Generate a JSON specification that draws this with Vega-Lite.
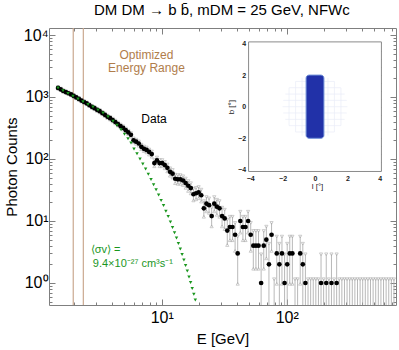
{
"$schema": "https://vega.github.io/schema/vega-lite/v6.json",
"width": 347, "height": 277,
"autosize": "none",
"padding": {"left": 49, "top": 28, "right": 3, "bottom": 45},
"background": "white",
"config": {"font": "Liberation Sans", "view": {"stroke": "#7f7f7f", "strokeWidth": 1},
  "axis": {"grid": false, "labelOverlap": false, "labelBound": false, "labelFlush": false, "titleFontWeight": "normal", "labelColor": "#000", "titleColor": "#000", "tickColor": "#7f7f7f", "domain": false, "labelFont": "Liberation Sans", "titleFont": "Liberation Sans"}},
"title": {"text": "DM DM → b b̄, mDM = 25 GeV, NFWc", "fontSize": 15, "fontWeight": "normal", "font": "Liberation Sans", "color": "#000", "anchor": "start", "frame": "group", "dx": 45, "offset": 9},
"datasets": {
"obs": [
{"E":1.481,"n":1400,"lo":1362,"hi":1438},{"E":1.554,"n":1330,"lo":1293,"hi":1367},{"E":1.630,"n":1250,"lo":1214,"hi":1286},{"E":1.710,"n":1200,"lo":1165,"hi":1235},{"E":1.794,"n":1150,"lo":1116,"hi":1185},{"E":1.882,"n":1100,"lo":1066,"hi":1134},{"E":1.974,"n":1040,"lo":1007,"hi":1073},{"E":2.071,"n":985,"lo":953,"hi":1017},{"E":2.173,"n":930,"lo":899,"hi":961},{"E":2.280,"n":875,"lo":845,"hi":905},
{"E":2.392,"n":830,"lo":801,"hi":860},{"E":2.509,"n":790,"lo":762,"hi":819},{"E":2.633,"n":740,"lo":713,"hi":768},{"E":2.762,"n":695,"lo":668,"hi":722},{"E":2.898,"n":660,"lo":634,"hi":687},{"E":3.040,"n":620,"lo":595,"hi":646},{"E":3.189,"n":590,"lo":565,"hi":615},{"E":3.346,"n":550,"lo":526,"hi":574},{"E":3.510,"n":515,"lo":492,"hi":539},{"E":3.683,"n":480,"lo":458,"hi":503},
{"E":3.864,"n":455,"lo":433,"hi":477},{"E":4.053,"n":425,"lo":404,"hi":446},{"E":4.253,"n":395,"lo":375,"hi":416},{"E":4.462,"n":365,"lo":346,"hi":385},{"E":4.681,"n":340,"lo":321,"hi":359},{"E":4.911,"n":318,"lo":300,"hi":337},{"E":5.152,"n":292,"lo":275,"hi":310},{"E":5.405,"n":268,"lo":251,"hi":285},{"E":5.671,"n":245,"lo":229,"hi":262},{"E":5.950,"n":200,"lo":186,"hi":215},
{"E":6.242,"n":190,"lo":176,"hi":205},{"E":6.549,"n":178,"lo":164,"hi":192},{"E":6.871,"n":157,"lo":144,"hi":170},{"E":7.208,"n":146,"lo":134,"hi":159},{"E":7.563,"n":140,"lo":128,"hi":153},{"E":7.934,"n":130,"lo":118,"hi":142},{"E":8.324,"n":120,"lo":109,"hi":132},{"E":8.733,"n":86,"lo":76.4,"hi":96.2},{"E":9.162,"n":95,"lo":85.0,"hi":105.6},{"E":9.614,"n":86,"lo":76.4,"hi":96.2},
{"E":10.09,"n":86,"lo":76.4,"hi":96.2},{"E":10.58,"n":80,"lo":70.8,"hi":89.8},{"E":11.10,"n":72,"lo":63.2,"hi":81.4},{"E":11.65,"n":62,"lo":53.8,"hi":70.8},{"E":12.22,"n":58,"lo":50.1,"hi":66.5},{"E":12.82,"n":48,"lo":40.8,"hi":55.8},{"E":13.45,"n":47,"lo":39.8,"hi":54.8},{"E":14.11,"n":47,"lo":39.8,"hi":54.8},{"E":14.81,"n":45,"lo":38.0,"hi":52.6},{"E":15.54,"n":41,"lo":34.3,"hi":48.3},
{"E":16.30,"n":37,"lo":30.6,"hi":44.0},{"E":17.10,"n":34,"lo":27.9,"hi":40.7},{"E":17.94,"n":27,"lo":21.5,"hi":33.1},{"E":18.82,"n":28,"lo":22.4,"hi":34.2},{"E":19.74,"n":29,"lo":23.3,"hi":35.3},{"E":20.71,"n":26,"lo":20.6,"hi":32.0},{"E":21.73,"n":16,"lo":11.7,"hi":20.9},{"E":22.80,"n":19,"lo":14.3,"hi":24.3},{"E":23.92,"n":18,"lo":13.5,"hi":23.1},{"E":25.09,"n":12,"lo":8.2,"hi":16.4},
{"E":26.33,"n":19,"lo":14.3,"hi":24.3},{"E":27.62,"n":17,"lo":12.6,"hi":22.0},{"E":28.98,"n":16,"lo":11.7,"hi":20.9},{"E":30.40,"n":12,"lo":8.2,"hi":16.4},{"E":31.89,"n":11,"lo":7.4,"hi":15.2},{"E":33.46,"n":7,"lo":4.1,"hi":10.5},{"E":35.10,"n":8,"lo":4.9,"hi":11.7},{"E":36.83,"n":8,"lo":4.9,"hi":11.7},{"E":38.64,"n":6,"lo":3.3,"hi":9.3},{"E":40.53,"n":3,"lo":0.97,"hi":5.6},
{"E":42.53,"n":10,"lo":6.5,"hi":14.1},{"E":44.62,"n":8,"lo":4.9,"hi":11.7},{"E":46.81,"n":8,"lo":4.9,"hi":11.7},{"E":49.11,"n":10,"lo":6.5,"hi":14.1},{"E":51.52,"n":6,"lo":3.3,"hi":9.3},{"E":54.05,"n":4,"lo":1.7,"hi":6.9},{"E":56.71,"n":4,"lo":1.7,"hi":6.9},{"E":59.50,"n":4,"lo":1.7,"hi":6.9},{"E":62.42,"n":1,"lo":0.01,"hi":2.9},{"E":65.49,"n":4,"lo":1.7,"hi":6.9},
{"E":68.71,"n":5,"lo":2.5,"hi":8.1},{"E":72.08,"n":2,"lo":0.29,"hi":4.3},{"E":75.63,"n":6,"lo":3.3,"hi":9.3},{"E":79.34,"n":0,"lo":0.01,"hi":1.15},{"E":83.24,"n":3,"lo":0.97,"hi":5.6},{"E":87.33,"n":2,"lo":0.29,"hi":4.3},{"E":91.62,"n":3,"lo":0.97,"hi":5.6},{"E":96.14,"n":1,"lo":0.01,"hi":2.9},{"E":100.9,"n":2,"lo":0.29,"hi":4.3},{"E":105.8,"n":3,"lo":0.97,"hi":5.6},
{"E":111.0,"n":3,"lo":0.97,"hi":5.6},{"E":116.5,"n":0,"lo":0.01,"hi":1.15},{"E":122.2,"n":0,"lo":0.01,"hi":1.15},{"E":128.2,"n":3,"lo":0.97,"hi":5.6},{"E":134.5,"n":2,"lo":0.29,"hi":4.3},{"E":141.1,"n":1,"lo":0.01,"hi":2.9},{"E":148.1,"n":0,"lo":0.01,"hi":1.15},{"E":155.4,"n":0,"lo":0.01,"hi":1.15},{"E":163.0,"n":0,"lo":0.01,"hi":1.15},{"E":171.0,"n":0,"lo":0.01,"hi":1.15},
{"E":179.4,"n":0,"lo":0.01,"hi":1.15},{"E":188.2,"n":1,"lo":0.01,"hi":2.9},{"E":197.4,"n":0,"lo":0.01,"hi":1.15},{"E":207.1,"n":1,"lo":0.01,"hi":2.9},{"E":217.3,"n":0,"lo":0.01,"hi":1.15},{"E":228.0,"n":1,"lo":0.01,"hi":2.9},{"E":239.2,"n":0,"lo":0.01,"hi":1.15},{"E":250.9,"n":1,"lo":0.01,"hi":2.9},{"E":263.3,"n":0,"lo":0.01,"hi":1.15},{"E":276.2,"n":0,"lo":0.01,"hi":1.15},
{"E":289.8,"n":0,"lo":0.01,"hi":1.15},{"E":304.0,"n":0,"lo":0.01,"hi":1.15},{"E":318.9,"n":0,"lo":0.01,"hi":1.15},{"E":334.6,"n":0,"lo":0.01,"hi":1.15},{"E":351.0,"n":0,"lo":0.01,"hi":1.15},{"E":368.3,"n":0,"lo":0.01,"hi":1.15},{"E":386.4,"n":0,"lo":0.01,"hi":1.15},{"E":405.3,"n":0,"lo":0.01,"hi":1.15},{"E":425.3,"n":0,"lo":0.01,"hi":1.15},{"E":446.2,"n":0,"lo":0.01,"hi":1.15},
{"E":468.1,"n":0,"lo":0.01,"hi":1.15},{"E":491.1,"n":0,"lo":0.01,"hi":1.15},{"E":515.2,"n":0,"lo":0.01,"hi":1.15},{"E":540.5,"n":0,"lo":0.01,"hi":1.15},{"E":567.1,"n":0,"lo":0.01,"hi":1.15},{"E":595.0,"n":0,"lo":0.01,"hi":1.15},{"E":624.2,"n":0,"lo":0.01,"hi":1.15},{"E":654.9,"n":0,"lo":0.01,"hi":1.15},{"E":687.1,"n":0,"lo":0.01,"hi":1.15},{"E":720.8,"n":0,"lo":0.01,"hi":1.15}
],
"model": [
{"E":1.481,"m":1397},{"E":1.623,"m":1264},{"E":1.780,"m":1139},{"E":1.951,"m":1030},{"E":2.140,"m":932},{"E":2.346,"m":840},{"E":2.573,"m":760},{"E":2.821,"m":687},{"E":3.093,"m":617},{"E":3.392,"m":552},{"E":3.719,"m":478},{"E":4.078,"m":407},{"E":4.389,"m":351},{"E":4.725,"m":296},{"E":5.039,"m":250},{"E":5.375,"m":212},{"E":5.680,"m":181},{"E":6.003,"m":145.6},{"E":6.344,"m":121.3},{"E":6.705,"m":100},{"E":7.060,"m":83.1},{"E":7.433,"m":69.0},{"E":7.813,"m":56.6},{"E":8.211,"m":46.7},{"E":8.613,"m":38.5},{"E":9.020,"m":31.9},{"E":9.445,"m":26.3},{"E":9.890,"m":21.5},{"E":10.34,"m":17.7},{"E":10.80,"m":14.4},{"E":11.27,"m":11.8},{"E":11.74,"m":9.64},{"E":12.20,"m":7.86},{"E":12.66,"m":6.48},{"E":13.13,"m":5.32},{"E":13.60,"m":4.34},{"E":14.09,"m":3.53},{"E":14.56,"m":2.88},{"E":15.05,"m":2.35},{"E":15.53,"m":1.92},{"E":16.02,"m":1.56},{"E":16.53,"m":1.254},{"E":17.03,"m":1.015},{"E":17.54,"m":0.818},{"E":18.07,"m":0.657},{"E":18.57,"m":0.532}
]
},
"layer": [
{
"layer": [
{"data": {"values": [{"E":1.96},{"E":2.36}]},
 "mark": {"type": "rule", "color": "#caa990", "strokeWidth": 1.2},
 "encoding": {"x": {"field": "E", "type": "quantitative", "scale": {"type": "log", "domain": [1.254, 748.6], "nice": false}, "axis": null}}},
{"data": {"name": "obs"},
 "mark": {"type": "rule", "color": "#a6a6a6", "strokeWidth": 0.8, "clip": true},
 "encoding": {"x": {"field": "E", "type": "quantitative", "scale": {"type": "log", "domain": [1.254, 748.6], "nice": false}, "axis": null},
  "y": {"field": "lo", "type": "quantitative", "scale": {"type": "log", "domain": [0.4416, 12970], "nice": false}, "axis": null},
  "y2": {"field": "hi"}}},
{"data": {"name": "obs"},
 "mark": {"type": "point", "shape": "triangle-down", "filled": false, "color": "#a6a6a6", "size": 10, "strokeWidth": 0.8, "clip": true},
 "encoding": {"x": {"field": "E", "type": "quantitative", "scale": {"type": "log", "domain": [1.254, 748.6], "nice": false}, "axis": null},
  "y": {"field": "hi", "type": "quantitative", "scale": {"type": "log", "domain": [0.4416, 12970], "nice": false}, "axis": null}}},
{"data": {"name": "obs"},
 "mark": {"type": "point", "shape": "triangle-up", "filled": false, "color": "#a6a6a6", "size": 10, "strokeWidth": 0.8, "clip": true},
 "encoding": {"x": {"field": "E", "type": "quantitative", "scale": {"type": "log", "domain": [1.254, 748.6], "nice": false}, "axis": null},
  "y": {"field": "lo", "type": "quantitative", "scale": {"type": "log", "domain": [0.4416, 12970], "nice": false}, "axis": null}}},
{"data": {"name": "obs"},
 "transform": [{"filter": "datum.n > 0"}],
 "mark": {"type": "circle", "color": "#000", "size": 22, "opacity": 1, "clip": true},
 "encoding": {"x": {"field": "E", "type": "quantitative", "scale": {"type": "log", "domain": [1.254, 748.6], "nice": false},
   "axis": {"orient": "bottom", "values": [2,3,4,5,6,7,8,9,10,20,30,40,50,60,70,80,90,100,200,300,400,500,600,700], "tickSize": -3, "labelExpr": "datum.value==10?'10¹':datum.value==100?'10²':''", "labelFontSize": 16, "labelPadding": 7, "title": "E [GeV]", "titleFontSize": 15, "titlePadding": 6}},
  "y": {"field": "n", "type": "quantitative", "scale": {"type": "log", "domain": [0.4416, 12970], "nice": false},
   "axis": {"orient": "left", "values": [0.5,0.6,0.7,0.8,0.9,1,2,3,4,5,6,7,8,9,10,20,30,40,50,60,70,80,90,100,200,300,400,500,600,700,800,900,1000,2000,3000,4000,5000,6000,7000,8000,9000,10000], "tickSize": -3, "labelExpr": "datum.value==1?'10⁰':datum.value==10?'10¹':datum.value==100?'10²':datum.value==1000?'10³':datum.value==10000?'10⁴':''", "labelFontSize": 16, "labelPadding": 4, "title": "Photon Counts", "titleFontSize": 15, "titlePadding": 4}}}},
{"data": {"name": "model"},
 "mark": {"type": "point", "shape": "triangle-down", "filled": true, "color": "#1a961e", "size": 12, "opacity": 1, "clip": true},
 "encoding": {"x": {"field": "E", "type": "quantitative", "scale": {"type": "log", "domain": [1.254, 748.6], "nice": false}, "axis": null},
  "y": {"field": "m", "type": "quantitative", "scale": {"type": "log", "domain": [0.4416, 12970], "nice": false}, "axis": null}}},
{"data": {"values": [{"E":7.55,"n":4755,"t":"Optimized"},{"E":7.55,"n":2940,"t":"Energy Range"}]},
 "mark": {"type": "text", "color": "#b07d4b", "fontSize": 12, "align": "center", "baseline": "middle"},
 "encoding": {"x": {"field": "E", "type": "quantitative", "scale": {"type": "log", "domain": [1.254, 748.6], "nice": false}, "axis": null},
  "y": {"field": "n", "type": "quantitative", "scale": {"type": "log", "domain": [0.4416, 12970], "nice": false}, "axis": null}, "text": {"field": "t"}}},
{"data": {"values": [{"E":8.68,"n":442,"t":"Data"}]},
 "mark": {"type": "text", "color": "#000", "fontSize": 12, "align": "center", "baseline": "middle"},
 "encoding": {"x": {"field": "E", "type": "quantitative", "scale": {"type": "log", "domain": [1.254, 748.6], "nice": false}, "axis": null},
  "y": {"field": "n", "type": "quantitative", "scale": {"type": "log", "domain": [0.4416, 12970], "nice": false}, "axis": null}, "text": {"field": "t"}}},
{"data": {"values": [{"E":2.70,"n":3.40,"t":"⟨σv⟩ ="},{"E":2.81,"n":2.02,"t":"9.4×10⁻²⁷ cm³s⁻¹"}]},
 "mark": {"type": "text", "color": "#1a961e", "fontSize": 11, "align": "left", "baseline": "middle"},
 "encoding": {"x": {"field": "E", "type": "quantitative", "scale": {"type": "log", "domain": [1.254, 748.6], "nice": false}, "axis": null},
  "y": {"field": "n", "type": "quantitative", "scale": {"type": "log", "domain": [0.4416, 12970], "nice": false}, "axis": null}, "text": {"field": "t"}}},
{"data": {"values": [{"E":10,"n":10}]},
 "mark": {"type": "point", "opacity": 0},
 "encoding": {"x": {"field": "E", "type": "quantitative", "scale": {"type": "log", "domain": [1.254, 748.6], "nice": false},
   "axis": {"orient": "bottom", "values": [10,100], "tickSize": -6, "labels": false, "title": null}},
  "y": {"field": "n", "type": "quantitative", "scale": {"type": "log", "domain": [0.4416, 12970], "nice": false},
   "axis": {"orient": "left", "values": [1,10,100,1000,10000], "tickSize": -6, "labels": false, "title": null}}}},
{"data": {"values": [{"E":10,"n":10}]},
 "mark": {"type": "point", "opacity": 0},
 "encoding": {"x": {"field": "E", "type": "quantitative", "scale": {"type": "log", "domain": [1.254, 748.6], "nice": false},
   "axis": {"orient": "top", "values": [2,3,4,5,6,7,8,9,10,20,30,40,50,60,70,80,90,100,200,300,400,500,600,700], "tickSize": -3, "labels": false, "title": null}},
  "y": {"field": "n", "type": "quantitative", "scale": {"type": "log", "domain": [0.4416, 12970], "nice": false},
   "axis": {"orient": "right", "values": [0.5,0.6,0.7,0.8,0.9,1,2,3,4,5,6,7,8,9,10,20,30,40,50,60,70,80,90,100,200,300,400,500,600,700,800,900,1000,2000,3000,4000,5000,6000,7000,8000,9000,10000], "tickSize": -3, "labels": false, "title": null}}}},
{"data": {"values": [{"E":10,"n":10}]},
 "mark": {"type": "point", "opacity": 0},
 "encoding": {"x": {"field": "E", "type": "quantitative", "scale": {"type": "log", "domain": [1.254, 748.6], "nice": false},
   "axis": {"orient": "top", "values": [10,100], "tickSize": -6, "labels": false, "title": null}},
  "y": {"field": "n", "type": "quantitative", "scale": {"type": "log", "domain": [0.4416, 12970], "nice": false},
   "axis": {"orient": "right", "values": [1,10,100,1000,10000], "tickSize": -6, "labels": false, "title": null}}}}
],
"resolve": {"axis": {"x": "independent", "y": "independent"}}
},
{
"layer": [
{"data": {"values": [{"l1":-4.1,"l2":4.1,"b1":-4.1,"b2":4.1}]},
 "mark": {"type": "rect", "fill": "white", "stroke": "#8a8a8a", "strokeWidth": 1},
 "encoding": {"x": {"field": "l1", "type": "quantitative", "scale": {"domain": [-16.42, 5.0], "nice": false, "zero": false},
   "axis": {"orient": "bottom", "offset": -133.5, "values": [-4,-3.5,-3,-2.5,-2,-1.5,-1,-0.5,0,0.5,1,1.5,2,2.5,3,3.5,4], "tickSize": -2, "tickColor": "#8a8a8a", "labelExpr": "datum.value%2==0 ? (datum.value<0 ? '−'+abs(datum.value) : ''+datum.value) : ''", "labelFontSize": 7, "labelFontWeight": "bold", "labelColor": "#222", "labelPadding": 5, "title": "l [°]", "titleFontSize": 8, "titleColor": "#222", "titleX": 268, "titlePadding": 1}},
  "x2": {"field": "l2"},
  "y": {"field": "b1", "type": "quantitative", "scale": {"domain": [-12.55, 4.98], "nice": false, "zero": false},
   "axis": {"orient": "left", "offset": -199.6, "values": [-4,-3.5,-3,-2.5,-2,-1.5,-1,-0.5,0,0.5,1,1.5,2,2.5,3,3.5,4], "tickSize": -2, "tickColor": "#8a8a8a", "labelExpr": "datum.value%2==0 ? (datum.value<0 ? '−'+abs(datum.value) : ''+datum.value) : ''", "labelFontSize": 7, "labelFontWeight": "bold", "labelColor": "#222", "labelPadding": 5, "title": "b [°]", "titleFontSize": 8, "titleColor": "#222", "titleY": 78.7, "titlePadding": 2}},
  "y2": {"field": "b2"}}},
{"data": {"values": [
  {"l1":-1.2,"l2":1.2,"b1":-1.6,"b2":-1.6},{"l1":-1.6,"l2":1.6,"b1":-1.2,"b2":-1.2},{"l1":-1.833,"l2":1.833,"b1":-0.8,"b2":-0.8},{"l1":-1.96,"l2":1.96,"b1":-0.4,"b2":-0.4},{"l1":-2,"l2":2,"b1":0,"b2":0},{"l1":-1.96,"l2":1.96,"b1":0.4,"b2":0.4},{"l1":-1.833,"l2":1.833,"b1":0.8,"b2":0.8},{"l1":-1.6,"l2":1.6,"b1":1.2,"b2":1.2},{"l1":-1.2,"l2":1.2,"b1":1.6,"b2":1.6},
  {"b1":-1.2,"b2":1.2,"l1":-1.6,"l2":-1.6},{"b1":-1.6,"b2":1.6,"l1":-1.2,"l2":-1.2},{"b1":-1.833,"b2":1.833,"l1":-0.8,"l2":-0.8},{"b1":-1.96,"b2":1.96,"l1":-0.4,"l2":-0.4},{"b1":-2,"b2":2,"l1":0,"l2":0},{"b1":-1.96,"b2":1.96,"l1":0.4,"l2":0.4},{"b1":-1.833,"b2":1.833,"l1":0.8,"l2":0.8},{"b1":-1.6,"b2":1.6,"l1":1.2,"l2":1.2},{"b1":-1.2,"b2":1.2,"l1":1.6,"l2":1.6}]},
 "mark": {"type": "rule", "color": "#e9edf8", "strokeWidth": 0.7},
 "encoding": {"x": {"field": "l1", "type": "quantitative", "axis": null}, "x2": {"field": "l2"}, "y": {"field": "b1", "type": "quantitative", "axis": null}, "y2": {"field": "b2"}}},
{"data": {"values": [{"l1":-0.55,"l2":0.55,"b1":-2,"b2":2}]},
 "mark": {"type": "rect", "fill": "#2131a8", "stroke": "#6f8fd8", "strokeWidth": 1, "cornerRadius": 3},
 "encoding": {"x": {"field": "l1", "type": "quantitative", "axis": null}, "x2": {"field": "l2"}, "y": {"field": "b1", "type": "quantitative", "axis": null}, "y2": {"field": "b2"}}},
{"data": {"values": [{"l1":0,"b1":0}]},
 "mark": {"type": "point", "opacity": 0},
 "encoding": {"x": {"field": "l1", "type": "quantitative",
   "axis": {"orient": "top", "offset": -13.9, "values": [-4,-3.5,-3,-2.5,-2,-1.5,-1,-0.5,0,0.5,1,1.5,2,2.5,3,3.5,4], "tickSize": -2, "tickColor": "#8a8a8a", "labels": false, "title": null}},
  "y": {"field": "b1", "type": "quantitative",
   "axis": {"orient": "right", "offset": -14.6, "values": [-4,-3.5,-3,-2.5,-2,-1.5,-1,-0.5,0,0.5,1,1.5,2,2.5,3,3.5,4], "tickSize": -2, "tickColor": "#8a8a8a", "labels": false, "title": null}}}}
],
"resolve": {"axis": {"x": "independent", "y": "independent"}}
}
],
"resolve": {"scale": {"x": "independent", "y": "independent"}}
}
